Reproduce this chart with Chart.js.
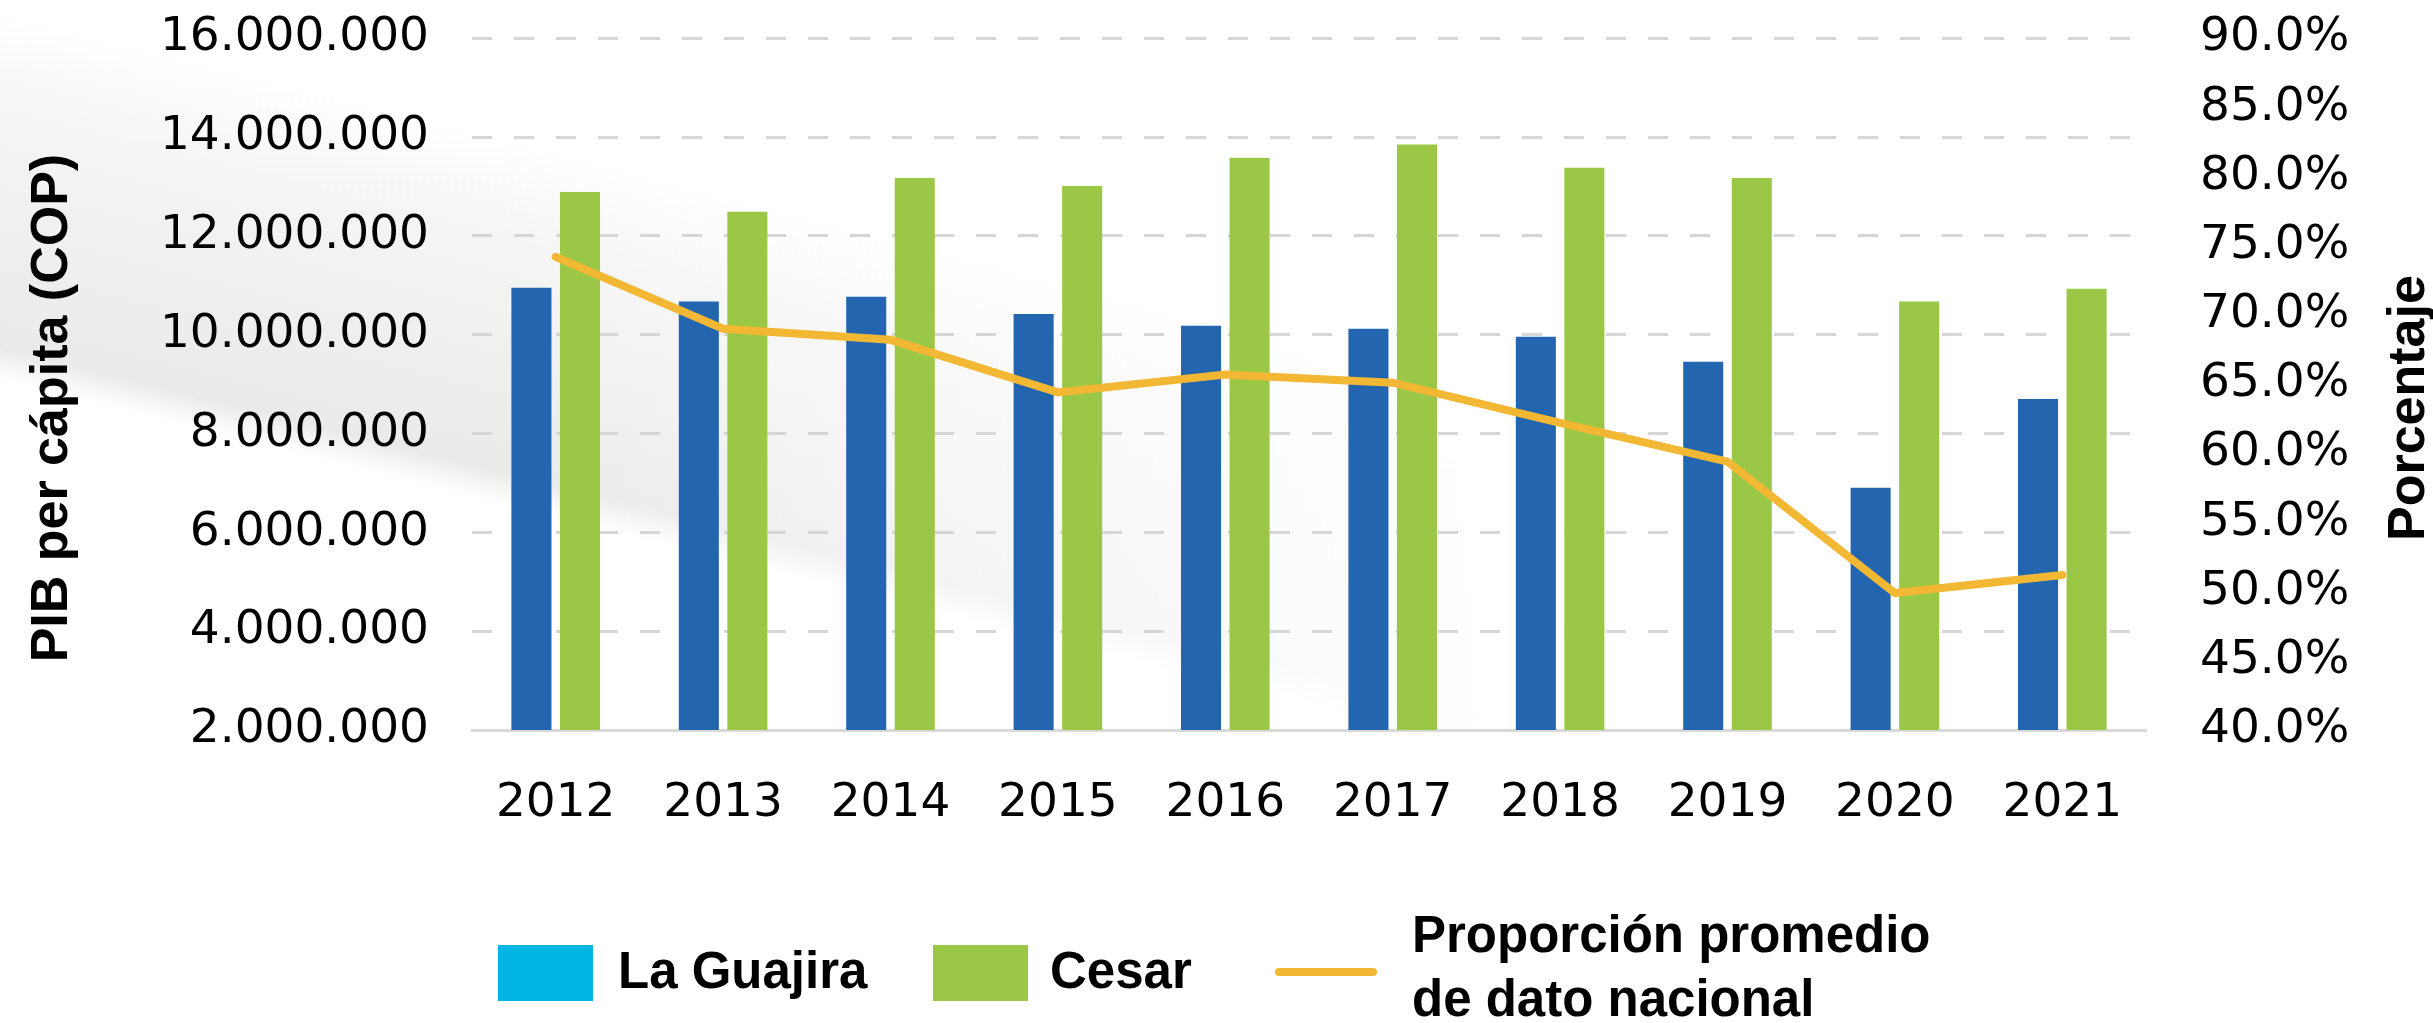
<!DOCTYPE html>
<html>
<head>
<meta charset="utf-8">
<script src="https://cdn.jsdelivr.net/npm/chart.js@4.4.1/dist/chart.umd.min.js"></script>
<style>
  html, body { margin: 0; padding: 0; }
  body {
    width: 2433px; height: 1023px; overflow: hidden; position: relative;
    background: #fff;
    font-family: "Liberation Sans", Arial, sans-serif;
  }
  /* franja gris del fondo, se desvanece hacia la derecha */
  #fondo {
    position: absolute; left: 0; top: 0; width: 2433px; height: 1023px;
    background: linear-gradient(194deg, rgba(236,236,236,0) 38%, #f5f5f5 44%, #efefef 52%, #eaeaea 58.5%, rgba(236,236,236,0) 60.5%);
    -webkit-mask-image: linear-gradient(90deg, #000 0px, #000 500px, rgba(0,0,0,0.5) 1000px, rgba(0,0,0,0) 1500px);
    mask-image: linear-gradient(90deg, #000 0px, #000 500px, rgba(0,0,0,0.5) 1000px, rgba(0,0,0,0) 1500px);
  }
  #wrap { position: absolute; left: 0; top: -44px; width: 2433px; height: 1067px; }
  .caja { position: absolute; top: 945px; width: 95px; height: 56px; }
  .txt { position: absolute; font-weight: bold; font-size: 51px; line-height: 51px; color: #000; white-space: nowrap; }
  .linea { position: absolute; left: 1275px; top: 968px; width: 102px; height: 8px; border-radius: 4px; background: #F2B733; }
</style>
</head>
<body>
<div id="fondo"></div>
<div id="wrap"><canvas id="myChart"></canvas></div>

<!-- leyenda -->
<div class="caja" style="left:498px; background:#00B5E2;"></div>
<div class="txt" style="left:618px; top:945px;">La Guajira</div>
<div class="caja" style="left:933px; background:#9BC746;"></div>
<div class="txt" style="left:1050px; top:945px;">Cesar</div>
<div class="linea"></div>
<div class="txt" style="left:1412px; top:903px; line-height:64px;">Proporción promedio<br>de dato nacional</div>

<script>
var years = ['2012', '2013', '2014', '2015', '2016', '2017', '2018', '2019', '2020', '2021'];
// PIB per cápita (COP)
var guajira = [10950000, 10670000, 10770000, 10420000, 10180000, 10120000, 9960000, 9450000, 6900000, 8700000];
var cesar = [12890000, 12490000, 13170000, 13010000, 13580000, 13850000, 13380000, 13170000, 10670000, 10930000];
// proporción promedio del dato nacional (%)
var proporcion = [74.2, 69.0, 68.2, 64.4, 65.7, 65.1, 62.2, 59.4, 49.9, 51.2];

var pibTicks = [2000000, 4000000, 6000000, 8000000, 10000000, 12000000, 14000000, 16000000];
var pctTicks = [40, 45, 50, 55, 60, 65, 70, 75, 80, 85, 90];

function puntos(v) {
  return String(Math.round(v)).replace(/\B(?=(\d{3})+(?!\d))/g, '.');
}

var tickFont = { family: 'DejaVu Sans', size: 47 };

// titulos de los ejes (los dos leen de abajo hacia arriba)
var titulos = {
  id: 'titulos',
  afterDraw: function(chart) {
    var c = chart.ctx;
    var mid = (chart.chartArea.top + chart.chartArea.bottom) / 2 + 24;
    c.save();
    c.font = 'bold 52px "Liberation Sans"';
    c.fillStyle = '#000';
    c.textAlign = 'center';
    c.textBaseline = 'alphabetic';
    c.translate(67, mid);
    c.rotate(-Math.PI / 2);
    c.fillText('PIB per cápita (COP)', 0, 0);
    c.restore();

    c.save();
    c.font = 'bold 52px "Liberation Sans"';
    c.fillStyle = '#000';
    c.textAlign = 'center';
    c.textBaseline = 'alphabetic';
    c.translate(2424, mid);
    c.rotate(-Math.PI / 2);
    c.fillText('Porcentaje', 0, 0);
    c.restore();
  }
};

var ctx = document.getElementById('myChart');
var myChart = new Chart(ctx, {
  type: 'bar',
  data: {
    labels: years,
    datasets: [{
      type: 'line',
      label: 'Proporción promedio de dato nacional',
      data: proporcion,
      yAxisID: 'y1',
      borderColor: '#F2B733',
      backgroundColor: '#F2B733',
      borderWidth: 8,
      pointRadius: 0,
      tension: 0,
      borderCapStyle: 'round',
      order: 0
    }, {
      label: 'La Guajira',
      data: guajira,
      yAxisID: 'y',
      backgroundColor: '#2365AF',
      categoryPercentage: 0.58,
      barPercentage: 0.825,
      order: 1
    }, {
      label: 'Cesar',
      data: cesar,
      yAxisID: 'y',
      backgroundColor: '#9BC746',
      categoryPercentage: 0.58,
      barPercentage: 0.825,
      order: 1
    }]
  },
  options: {
    responsive: true,
    maintainAspectRatio: false,
    animation: false,
    layout: { padding: 0 },
    plugins: {
      legend: { display: false },
      tooltip: { enabled: false }
    },
    scales: {
      x: {
        grid: { display: false },
        border: { display: true, color: '#D9D9D9', width: 3 },
        ticks: { color: '#000', font: tickFont, padding: 38 },
        afterFit: function(s) { s.height = 293; }
      },
      y: {
        position: 'left',
        min: pibTicks[0],
        max: pibTicks[pibTicks.length - 1],
        afterBuildTicks: function(s) { s.ticks = pibTicks.map(function(v) { return { value: v }; }); },
        grid: {
          color: function(c) { return c.tick && c.tick.value === pibTicks[0] ? 'rgba(0,0,0,0)' : '#D6D6D6'; },
          lineWidth: 3,
          drawTicks: false
        },
        border: { display: false, dash: [20, 22] },
        ticks: { color: '#000', font: tickFont, padding: 43, callback: function(v) { return puntos(v); } },
        afterFit: function(s) { s.width = 472; }
      },
      y1: {
        position: 'right',
        min: pctTicks[0],
        max: pctTicks[pctTicks.length - 1],
        afterBuildTicks: function(s) { s.ticks = pctTicks.map(function(v) { return { value: v }; }); },
        grid: { display: false, drawTicks: false },
        border: { display: false },
        ticks: { color: '#000', font: tickFont, padding: 54, callback: function(v) { return v.toFixed(1) + '%'; } },
        afterFit: function(s) { s.width = 287; }
      }
    }
  },
  plugins: [titulos]
});
</script>
</body>
</html>
